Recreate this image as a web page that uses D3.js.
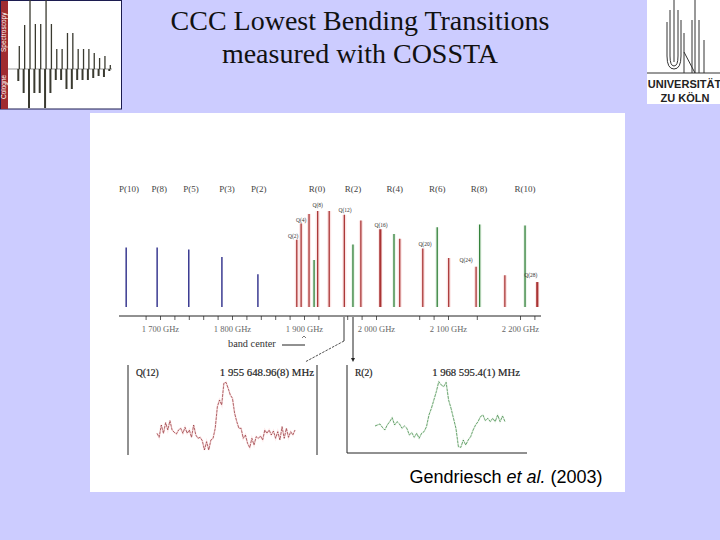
<!DOCTYPE html>
<html>
<head>
<meta charset="utf-8">
<script src="https://d3js.org/d3.v7.min.js"></script>
<style>
  html, body { margin: 0; padding: 0; background: #ccccff; }
  svg { display: block; }
  .serif { font-family: "Liberation Serif", serif; }
  .sans { font-family: "Liberation Sans", sans-serif; }
</style>
</head>
<body>
<div id="chart"></div>
<script>
// transitions: frequency in GHz, intensity in percent of the strongest line
var pNames = ["P(10)", "P(8)", "P(5)", "P(3)", "P(2)"];
var pFreq = [1653, 1696, 1740, 1786, 1836];
var pInt = [62, 62, 60, 52, 34];

var qFreq = [1890, 1896, 1907, 1919, 1935, 1956, 1979, 2006, 2033, 2065, 2101, 2139, 2179, 2224];
var qInt = [70, 87, 97, 100, 100, 96, 90, 81, 71, 61, 51, 42, 33, 26];
var qWide = [2006, 2224];

var rFreq = [1914, 1968, 2025, 2085, 2144, 2207];
var rInt = [49, 65, 76, 83, 86, 85];

// labels above the sticks, placed by frequency and label height in percent
var topNames = ["P(10)", "P(8)", "P(5)", "P(3)", "P(2)", "R(0)", "R(2)", "R(4)", "R(6)", "R(8)", "R(10)"];
var topFreq = [1657, 1699, 1743, 1793, 1837, 1918, 1968, 2026, 2085, 2143, 2207];

var qNames = ["Q(2)", "Q(4)", "Q(8)", "Q(12)", "Q(16)", "Q(20)", "Q(24)", "Q(28)"];
var qNameFreq = [1885, 1896, 1919, 1957, 2007, 2068, 2125, 2215];
var qNameInt = [72, 89, 104, 99, 83, 64, 47, 31];

var axisTicks = [1680, 1700, 1720, 1740, 1760, 1780, 1800, 1820, 1840, 1860, 1880, 1900, 1920,
  1960, 1980, 2000, 2060, 2080, 2100, 2140, 2200, 2220];
var axisLabels = { 1700: "1 700 GHz", 1800: "1 800 GHz", 1900: "1 900 GHz",
  2000: "2 000 GHz", 2100: "2 100 GHz", 2200: "2 200 GHz" };

// measured line profiles, equal steps, arbitrary amplitude
var traceQ = [50, 38, 75, 50, 82, 60, 88, 60, 53, 48, 60, 65, 50, 68, 50, 60, 38, 75, 45, 35, 38, 28, 0,
  25, 0, 30, 35, 65, 130, 150, 135, 200, 203, 185, 165, 155, 110, 85, 65, 65, 35, 45, 20, 7, 35, 15, 40,
  35, 42, 30, 60, 50, 60, 45, 57, 35, 55, 30, 70, 35, 65, 38, 55, 45, 60];
var traceR = [72, 75, 78, 68, 60, 75, 85, 97, 75, 85, 78, 65, 72, 65, 45, 52, 38, 50, 35, 50, 55, 70, 105,
  125, 150, 175, 205, 195, 190, 203, 150, 125, 95, 65, 10, 8, 30, 15, 30, 40, 60, 75, 85, 100, 105, 88,
  95, 85, 95, 85, 105, 85, 102, 85];

// spectrum in the corner logo
var logoUp = [23, 44, 70, 45, 45, 70, 45, 20, 20, 36, 36, 20, 20, 20, 16, 11, 13, 4];
var logoDown = [12, 24, 39, 24, 24, 39, 24, 11, 11, 20, 20, 11, 11, 11, 9, 7, 8, 2];

var svg = d3.select("#chart").append("svg")
  .attr("width", 720)
  .attr("height", 540);

svg.append("rect").attr("width", 720).attr("height", 540).attr("fill", "#ccccff");

// title
var title = svg.append("text").attr("class", "serif")
  .attr("text-anchor", "middle")
  .attr("font-size", 28)
  .attr("fill", "#111");
title.append("tspan").attr("x", 360).attr("y", 30).text("CCC Lowest Bending Transitions");
title.append("tspan").attr("x", 360).attr("y", 63).text("measured with COSSTA");

// white picture area
svg.append("rect")
  .attr("x", 90).attr("y", 113)
  .attr("width", 535).attr("height", 379)
  .attr("fill", "#fff");

var x = d3.scaleLinear().domain([1700, 2200]).range([160, 520]);
var y = d3.scaleLinear().domain([0, 100]).range([307, 211]);

function drawSticks(freqs, ints, color, halo) {
  var data = d3.zip(freqs, ints);
  if (halo) {
    svg.append("g").selectAll("line").data(data).enter().append("line")
      .attr("x1", function(d) { return x(d[0]); })
      .attr("x2", function(d) { return x(d[0]); })
      .attr("y1", y(0))
      .attr("y2", function(d) { return y(d[1]); })
      .attr("stroke", halo)
      .attr("stroke-width", 4);
  }
  svg.append("g").selectAll("line").data(data).enter().append("line")
    .attr("x1", function(d) { return x(d[0]); })
    .attr("x2", function(d) { return x(d[0]); })
    .attr("y1", y(0))
    .attr("y2", function(d) { return y(d[1]); })
    .attr("stroke", color)
    .attr("stroke-width", function(d) { return qWide.indexOf(d[0]) >= 0 ? 2.2 : 1.3; });
}

drawSticks(pFreq, pInt, "#1c1c80");
drawSticks(qFreq, qInt, "#a93434", "#fbe3e3");
drawSticks(rFreq, rInt, "#2f7f36", "#eef6ee");

// axis
var axis = d3.axisBottom(x)
  .tickValues(axisTicks)
  .tickSize(4)
  .tickPadding(6)
  .tickFormat(function(d) { return axisLabels[d] || ""; });

var axisG = svg.append("g")
  .attr("transform", "translate(0,316)")
  .call(axis);
axisG.select(".domain").remove();
axisG.append("line")
  .attr("x1", 119).attr("x2", 541)
  .attr("stroke", "#222")
  .attr("stroke-width", 1);
axisG.selectAll(".tick line").attr("stroke", "#333").attr("stroke-width", 0.8);
axisG.selectAll(".tick text")
  .attr("class", "serif")
  .attr("font-size", 8.5)
  .attr("fill", "#666");

// labels
svg.append("g").selectAll("text").data(topNames).enter().append("text")
  .attr("class", "serif")
  .attr("x", function(d, i) { return x(topFreq[i]); })
  .attr("y", 192)
  .attr("text-anchor", "middle")
  .attr("font-size", 9)
  .attr("fill", "#444")
  .text(function(d) { return d; });

svg.append("g").selectAll("text").data(qNames).enter().append("text")
  .attr("class", "serif")
  .attr("x", function(d, i) { return x(qNameFreq[i]); })
  .attr("y", function(d, i) { return y(qNameInt[i]); })
  .attr("text-anchor", "middle")
  .attr("font-size", 5.5)
  .attr("fill", "#333")
  .text(function(d) { return d; });

// band center pointer
svg.append("text").attr("class", "serif")
  .attr("x", 228).attr("y", 347)
  .attr("font-size", 10.3)
  .attr("fill", "#333")
  .text("band center");
svg.append("line")
  .attr("x1", 282).attr("x2", 305).attr("y1", 345).attr("y2", 345)
  .attr("stroke", "#222").attr("stroke-width", 1);
svg.append("path")
  .attr("d", "M302,338L304,336L306,338")
  .attr("fill", "none").attr("stroke", "#555").attr("stroke-width", 0.8);

// pointers to the two detail panels
svg.append("line")
  .attr("x1", 344).attr("x2", 344).attr("y1", 317).attr("y2", 341)
  .attr("stroke", "#222").attr("stroke-width", 0.9);
svg.append("line")
  .attr("x1", 344).attr("x2", 305).attr("y1", 341).attr("y2", 362)
  .attr("stroke", "#222").attr("stroke-width", 0.8)
  .attr("stroke-dasharray", "2.5 1.2");
svg.append("line")
  .attr("x1", 353).attr("x2", 353).attr("y1", 317).attr("y2", 358)
  .attr("stroke", "#222").attr("stroke-width", 1);
svg.append("path")
  .attr("d", "M351,358L353,362L355,358Z")
  .attr("fill", "#222");

// detail panels
function drawPanel(values, x0, x1, color, halo) {
  var px = d3.scaleLinear().domain([0, values.length - 1]).range([x0, x1]);
  var py = d3.scaleLinear().domain([0, 200]).range([450, 383.3]);
  var line = d3.line()
    .x(function(d, i) { return px(i); })
    .y(function(d) { return py(d); });
  svg.append("path").datum(values)
    .attr("d", line)
    .attr("fill", "none")
    .attr("stroke", halo)
    .attr("stroke-width", 2);
  svg.append("path").datum(values)
    .attr("d", line)
    .attr("fill", "none")
    .attr("stroke", color)
    .attr("stroke-width", 0.7)
    .attr("stroke-dasharray", "3 0.8");
}

svg.append("path")
  .attr("d", "M128,365V455M317,365V455")
  .attr("fill", "none").attr("stroke", "#222").attr("stroke-width", 1);
svg.append("path")
  .attr("d", "M347,365V453H527")
  .attr("fill", "none").attr("stroke", "#222").attr("stroke-width", 1);

drawPanel(traceQ, 157, 295, "#8e2a30", "#fdeaea");
drawPanel(traceR, 375, 505, "#2f7f36", "#f3f9f3");

function panelText(txt, px, anchor, size) {
  svg.append("text").attr("class", "serif")
    .attr("x", px).attr("y", 376)
    .attr("text-anchor", anchor)
    .attr("font-size", size)
    .attr("stroke", "#222")
    .attr("stroke-width", 0.2)
    .attr("fill", "#222")
    .text(txt);
}
panelText("Q(12)", 136, "start", 9.5);
panelText("1 955 648.96(8) MHz", 314, "end", 10.8);
panelText("R(2)", 355, "start", 9.5);
panelText("1 968 595.4(1) MHz", 520, "end", 10.7);

// citation
var cite = svg.append("text").attr("class", "sans")
  .attr("x", 506).attr("y", 483)
  .attr("text-anchor", "middle")
  .attr("font-size", 18)
  .attr("fill", "#000");
cite.append("tspan").text("Gendriesch ");
cite.append("tspan").attr("font-style", "italic").text("et al.");
cite.append("tspan").text(" (2003)");

// left logo
var logo = svg.append("g");
logo.append("rect")
  .attr("x", 0.5).attr("y", 0.5).attr("width", 121).attr("height", 108.5)
  .attr("fill", "#fff").attr("stroke", "#1c1c50").attr("stroke-width", 1);
logo.append("rect")
  .attr("x", 1).attr("y", 1).attr("width", 7).attr("height", 108)
  .attr("fill", "#a02c30");
logo.append("text").attr("class", "sans")
  .attr("transform", "translate(6,52) rotate(-90)")
  .attr("font-size", 6.5).attr("fill", "#fff")
  .text("Spectroscopy");
logo.append("text").attr("class", "sans")
  .attr("transform", "translate(6,99) rotate(-90)")
  .attr("font-size", 6.5).attr("fill", "#fff")
  .text("Cologne");
logo.append("line")
  .attr("x1", 8).attr("x2", 112).attr("y1", 69).attr("y2", 69)
  .attr("stroke", "#999").attr("stroke-width", 1);

var lx = d3.scaleLinear().domain([0, logoUp.length - 1]).range([19.3, 110.3]);
logo.selectAll(".up").data(logoUp).enter().append("line")
  .attr("x1", function(d, i) { return lx(i); })
  .attr("x2", function(d, i) { return lx(i); })
  .attr("y1", 69)
  .attr("y2", function(d) { return 69 - d; })
  .attr("stroke", "#3a3a30").attr("stroke-width", 1.3);
logo.selectAll(".down").data(logoDown).enter().append("line")
  .attr("x1", function(d, i) { return lx(i) - 1; })
  .attr("x2", function(d, i) { return lx(i) - 1; })
  .attr("y1", 69)
  .attr("y2", function(d) { return 69 + d; })
  .attr("stroke", "#3a3a30").attr("stroke-width", 2);

// university logo
var uni = svg.append("g");
uni.append("rect")
  .attr("x", 647).attr("y", 0).attr("width", 73).attr("height", 104)
  .attr("fill", "#fff");
uni.append("path")
  .attr("d", "M667,22V56Q667,69 674,69Q681,69 681,56V20M670,10V56Q670,66 674,66Q678,66 678,56V10M674,0V62"
    + "M684,73V33M692,73V20M684,52L695,73M695,0V73M699,73V20M704,73V40M647,73H720")
  .attr("fill", "none").attr("stroke", "#333").attr("stroke-width", 1);
uni.append("text").attr("class", "sans")
  .attr("x", 684.5).attr("y", 88)
  .attr("text-anchor", "middle")
  .attr("font-size", 11).attr("font-weight", 700)
  .attr("fill", "#222")
  .text("UNIVERSITÄT");
uni.append("text").attr("class", "sans")
  .attr("x", 685).attr("y", 102)
  .attr("text-anchor", "middle")
  .attr("font-size", 11).attr("font-weight", 700)
  .attr("fill", "#222")
  .text("ZU KÖLN");
</script>
</body>
</html>
